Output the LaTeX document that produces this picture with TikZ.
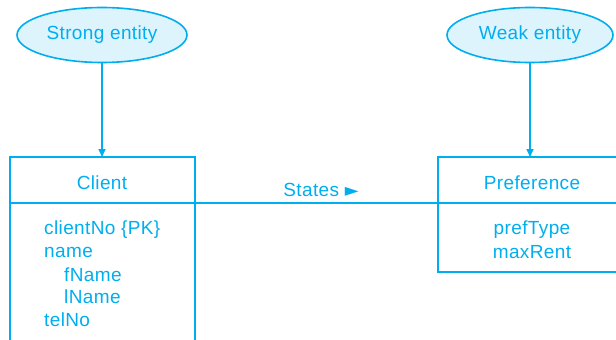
\documentclass[tikz,border=0pt]{standalone}
\usepackage{fontspec}
\setmainfont{Liberation Sans}[LetterSpace=2]
\newfontfamily\symfont{DejaVu Sans}
\usetikzlibrary{shapes.geometric,arrows.meta}
\definecolor{ln}{RGB}{0,174,239}
\definecolor{efill}{RGB}{222,244,252}
\begin{document}
\begin{tikzpicture}[x=1pt,y=-1pt,
  every node/.style={text=ln,font=\fontsize{19}{22.5}\selectfont},
  ent/.style={ellipse,draw=ln,fill=efill,line width=1.6pt,minimum width=170pt,minimum height=55pt,inner sep=0pt},
  conn/.style={draw=ln,line width=1.6pt},
  arr/.style={conn,-{Triangle[length=8pt,width=7pt]}},
  lbl/.style={anchor=center,inner sep=0pt},
  attr/.style={anchor=west,inner sep=0pt}]
\useasboundingbox (0,0) rectangle (616,340);
\clip (0,0) rectangle (616,340);
% entity boxes
\draw[conn] (10,360) -- (10,157) -- (195,157) -- (195,360);
\draw[conn] (10,203) -- (195,203);
\draw[conn] (630,157) -- (438,157) -- (438,272) -- (630,272);
\draw[conn] (438,203) -- (630,203);
\coordinate (ctop) at (102,157);
\coordinate (ptop) at (530,157);
\coordinate (cr) at (195,203);
\coordinate (pl) at (438,203);
% ellipses
\node[ent] (strong) at (102,35) {\raisebox{-1.5pt}{Strong entity}};
\node[ent,minimum width=166pt] (weak) at (530,35) {\raisebox{-1.5pt}{Weak entity}};
\draw[arr] (strong.south) -- (ctop);
\draw[arr] (weak.south) -- (ptop);
% relationship
\draw[conn] (cr) -- (pl);
\node[lbl] (states) at (321,189.5) {States {\symfont\fontsize{18}{18}\selectfont ►}};
% texts
\node[lbl] (client) at (102,182.5) {Client};
\node[attr] (a1) at (44,229.5) {clientNo \{PK\}};
\node[attr] (a2) at (44,252) {name};
\node[attr] (a3) at (64,274.5) {fName};
\node[attr] (a4) at (64,297) {lName};
\node[attr] (a5) at (44,319.5) {telNo};
\node[lbl] (pref) at (532,182.5) {Preference};
\node[lbl] (b1) at (532,230) {prefType};
\node[lbl] (b2) at (532,252.5) {maxRent};
\end{tikzpicture}
\end{document}
